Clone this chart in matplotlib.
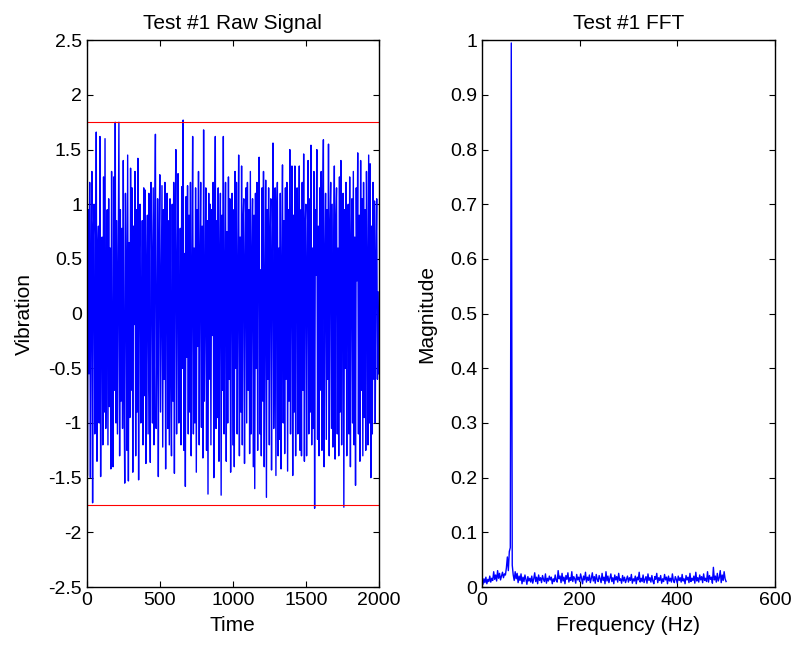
import numpy as np
import matplotlib.pyplot as plt

plt.rcParams['font.family'] = ['Liberation Sans', 'DejaVu Sans']
plt.rcParams['font.size'] = 14

# raw vibration signal, one value every 5 time units (0..2000)
vibration = [
    1.05, -1.48, 0.95, -0.55, 1.2, -1.5, 0.35, 1.3, -1.73, 0.72, 1.0, -1.1, -0.2, 1.66, -1.35, 0.55, 0.8, -1.0, 1.62, -1.49,
    0.2, 0.7, -1.2, 1.25, -0.9, 1.6, -1.05, -0.3, 0.95, -1.2, 1.05, -0.85, 0.6, -1.42, 1.3, -0.5, -1.4, 1.25, -0.7, 1.75,
    -1.0, 0.85, -1.1, 0.3, 1.75, -1.3, 0.95, -0.8, 0.78, -1.05, 1.4, -0.6, -1.55, 1.1, 0.4, -1.25, 1.45, -1.53, 0.65, -0.95,
    1.33, -0.7, 1.15, -1.45, 0.8, -0.1, 1.3, -1.3, 0.95, -0.9, 1.42, -1.52, 0.6, 1.0, -1.0, -0.4, 0.85, -1.2, 1.15, -0.75,
    1.13, -1.37, 0.3, 0.9, -1.1, 1.1, -0.65, -1.36, 1.2, 0.5, -1.0, 1.15, -1.2, 0.75, 1.64, -1.05, -0.3, 1.05, -1.49, 0.6,
    1.27, -0.9, 0.2, 1.17, -1.22, 0.95, -0.6, 1.2, -1.42, 0.4, 1.1, -1.05, 0.85, -1.2, 1.05, -0.55, -1.3, 1.0, -0.8, 1.2,
    -1.46, 0.77, 1.5, -1.1, 0.3, 1.28, -1.0, -0.75, 0.78, -1.2, 1.16, -0.5, 1.77, -1.25, 0.55, -1.58, 1.07, -0.4, 1.17, -1.1,
    0.9, -0.9, 1.2, -1.3, 0.3, 1.62, -1.1, 0.6, -1.0, 1.15, -1.45, 0.95, -0.3, 1.3, -1.2, 0.5, 1.2, -1.04, 0.8, -1.32,
    1.68, -0.8, 0.1, 1.15, -1.25, 0.85, -1.65, 1.1, -0.6, 1.0, -1.2, 0.95, -0.2, 1.2, -1.5, 0.6, 1.62, -1.05, 0.85, -0.95,
    1.15, -1.35, 0.4, 1.1, -1.66, 0.9, -0.7, 1.62, -1.1, 0.3, 1.2, -1.35, 0.75, -1.0, 1.25, -0.6, 1.05, -1.45, 0.55, 1.1,
    -1.2, 0.95, -1.4, 1.3, -0.5, 1.2, -1.1, 0.3, 1.45, -1.3, 0.7, -0.9, 1.35, -1.2, 0.85, 1.05, -1.37, 0.45, 1.15, -1.0,
    1.2, -0.7, 0.95, -1.28, 1.3, -1.1, 0.5, 1.05, -1.4, 0.9, -1.6, 1.1, -0.5, 1.2, -1.25, 0.95, 1.43, -1.1, 0.4, -1.3,
    1.15, -0.8, 1.3, -1.4, 0.2, 1.22, -1.68, 0.95, -0.6, 1.15, -1.2, 0.7, 1.05, -1.43, 0.5, 1.56, -1.05, -0.3, 1.15, -1.48,
    0.9, 1.2, -1.3, 0.6, -1.15, 1.1, -1.42, 0.4, 1.36, -1.0, 0.85, -1.28, 1.15, -0.6, 1.2, -1.44, 0.95, -0.8, 1.5, -1.1,
    0.5, 1.35, -1.48, 0.9, -0.9, 1.35, -1.3, 0.6, 1.15, -1.1, 0.3, 1.35, -1.25, 0.95, -1.3, 1.2, -0.7, 1.46, -1.35, 0.8,
    1.0, -1.3, 0.4, 1.4, -1.1, 1.05, -0.9, 1.54, -1.2, 0.6, -1.05, 1.3, -1.78, 0.95, 0.35, 1.5, -1.15, 0.8, -1.3, 1.15,
    -0.7, 1.3, -1.25, 0.9, 1.59, -1.4, 0.5, 1.1, -1.15, 0.95, -0.6, 1.55, -1.3, 0.8, 1.2, -1.05, 1.0, -1.22, 0.4, 1.35,
    -1.33, 0.85, 1.15, -1.1, 0.6, -1.3, 1.25, -0.9, 1.4, -1.2, 0.7, 1.1, -1.77, 0.95, -0.5, 1.2, -1.3, 0.8, 1.0, -1.1,
    1.25, -1.4, 0.5, 1.05, -1.0, 1.3, -1.2, 0.7, -1.57, 1.15, 0.3, 1.47, -1.1, 0.9, -1.35, 1.4, -0.7, 1.05, -1.3, 1.2,
    -0.95, 0.95, -1.25, 1.3, 0.4, -1.2, 1.45, -1.0, 1.37, -1.5, 0.8, -1.1, 1.2, -0.6, 1.03, -1.0, 0.5, 1.05, -0.6, 0.2,
    -0.55,
]
threshold = 1.75

# FFT magnitude, one value every 2 Hz (0..500)
magnitude = [
    0.012, 0.005, 0.015, 0.008, 0.018, 0.006, 0.014, 0.01, 0.02, 0.009, 0.016, 0.012, 0.028, 0.014, 0.022, 0.011, 0.03, 0.016, 0.025, 0.013, 0.02, 0.027, 0.017, 0.024, 0.022,
    0.035, 0.055, 0.03, 0.065, 0.072, 0.995, 0.04, 0.022, 0.012, 0.028, 0.015, 0.025, 0.008, 0.02, 0.012, 0.024, 0.006, 0.018, 0.01, 0.022, 0.014, 0.005, 0.019, 0.011, 0.016,
    0.009, 0.02, 0.007, 0.015, 0.026, 0.01, 0.018, 0.006, 0.022, 0.012, 0.017, 0.008, 0.021, 0.014, 0.01, 0.024, 0.007, 0.016, 0.011, 0.02, 0.013, 0.018, 0.006, 0.015, 0.01,
    0.022, 0.012, 0.009, 0.03, 0.015, 0.02, 0.008, 0.025, 0.011, 0.018, 0.006, 0.021, 0.014, 0.026, 0.009, 0.017, 0.012, 0.028, 0.01, 0.019, 0.015, 0.007, 0.023, 0.013, 0.018,
    0.01, 0.024, 0.016, 0.006, 0.02, 0.013, 0.027, 0.009, 0.018, 0.012, 0.022, 0.008, 0.016, 0.026, 0.011, 0.019, 0.007, 0.023, 0.014, 0.01, 0.021, 0.015, 0.008, 0.025, 0.012,
    0.018, 0.006, 0.028, 0.011, 0.02, 0.008, 0.016, 0.024, 0.01, 0.017, 0.006, 0.022, 0.013, 0.019, 0.009, 0.025, 0.012, 0.015, 0.007, 0.021, 0.011, 0.018, 0.008, 0.014, 0.02,
    0.009, 0.017, 0.012, 0.023, 0.007, 0.015, 0.011, 0.02, 0.006, 0.018, 0.013, 0.027, 0.009, 0.016, 0.01, 0.022, 0.008, 0.014, 0.019, 0.007, 0.024, 0.012, 0.017, 0.009, 0.021,
    0.011, 0.006, 0.019, 0.014, 0.025, 0.008, 0.017, 0.012, 0.021, 0.007, 0.015, 0.01, 0.023, 0.013, 0.018, 0.006, 0.02, 0.011, 0.016, 0.009, 0.024, 0.012, 0.008, 0.019, 0.014,
    0.007, 0.02, 0.012, 0.017, 0.009, 0.023, 0.011, 0.015, 0.006, 0.021, 0.013, 0.018, 0.008, 0.025, 0.01, 0.016, 0.012, 0.02, 0.007, 0.027, 0.011, 0.017, 0.009, 0.022, 0.013,
    0.019, 0.008, 0.024, 0.012, 0.016, 0.01, 0.028, 0.009, 0.021, 0.014, 0.018, 0.007, 0.036, 0.013, 0.02, 0.009, 0.025, 0.011, 0.017, 0.03, 0.008, 0.022, 0.012, 0.028, 0.015,
    0.01,
]

time = np.arange(len(vibration)) * 5
freq = np.arange(len(magnitude)) * 2

fig = plt.figure(figsize=(7.96, 6.49), dpi=100)
ax1 = fig.add_axes([0.109, 0.0955, 0.367, 0.8425])
ax2 = fig.add_axes([0.6055, 0.0955, 0.368, 0.8425])

ax1.plot(time, vibration, color='blue', lw=1.0)
ax1.axhline(threshold, color='red', lw=0.8)
ax1.axhline(-threshold, color='red', lw=0.8)
ax1.set_xlim(0, 2000)
ax1.set_ylim(-2.5, 2.5)
ax1.set_xticks([0, 500, 1000, 1500, 2000])
ax1.set_yticks(np.arange(-2.5, 2.51, 0.5))
ax1.set_yticklabels(['-2.5', '-2', '-1.5', '-1', '-0.5', '0', '0.5', '1', '1.5', '2', '2.5'])
ax1.set_xlabel('Time', fontsize=15, labelpad=5)
ax1.set_ylabel('Vibration', fontsize=15, labelpad=10)
ax1.set_title('Test #1 Raw Signal', fontsize=15, pad=8)

ax2.plot(freq, magnitude, color='blue', lw=1.0)
ax2.set_xlim(0, 600)
ax2.set_ylim(0, 1)
ax2.set_xticks([0, 200, 400, 600])
ax2.set_yticks(np.arange(0, 1.01, 0.1))
ax2.set_yticklabels(['0', '0.1', '0.2', '0.3', '0.4', '0.5', '0.6', '0.7', '0.8', '0.9', '1'])
ax2.set_xlabel('Frequency (Hz)', fontsize=15, labelpad=5)
ax2.set_ylabel('Magnitude', fontsize=15, labelpad=10)
ax2.set_title('Test #1 FFT', fontsize=15, pad=8)

for ax in (ax1, ax2):
    ax.tick_params(direction='in', top=True, right=True, length=4, width=0.8, labelsize=14)
    for s in ax.spines.values():
        s.set_linewidth(1.0)

fig.savefig('out.png', dpi=100)
